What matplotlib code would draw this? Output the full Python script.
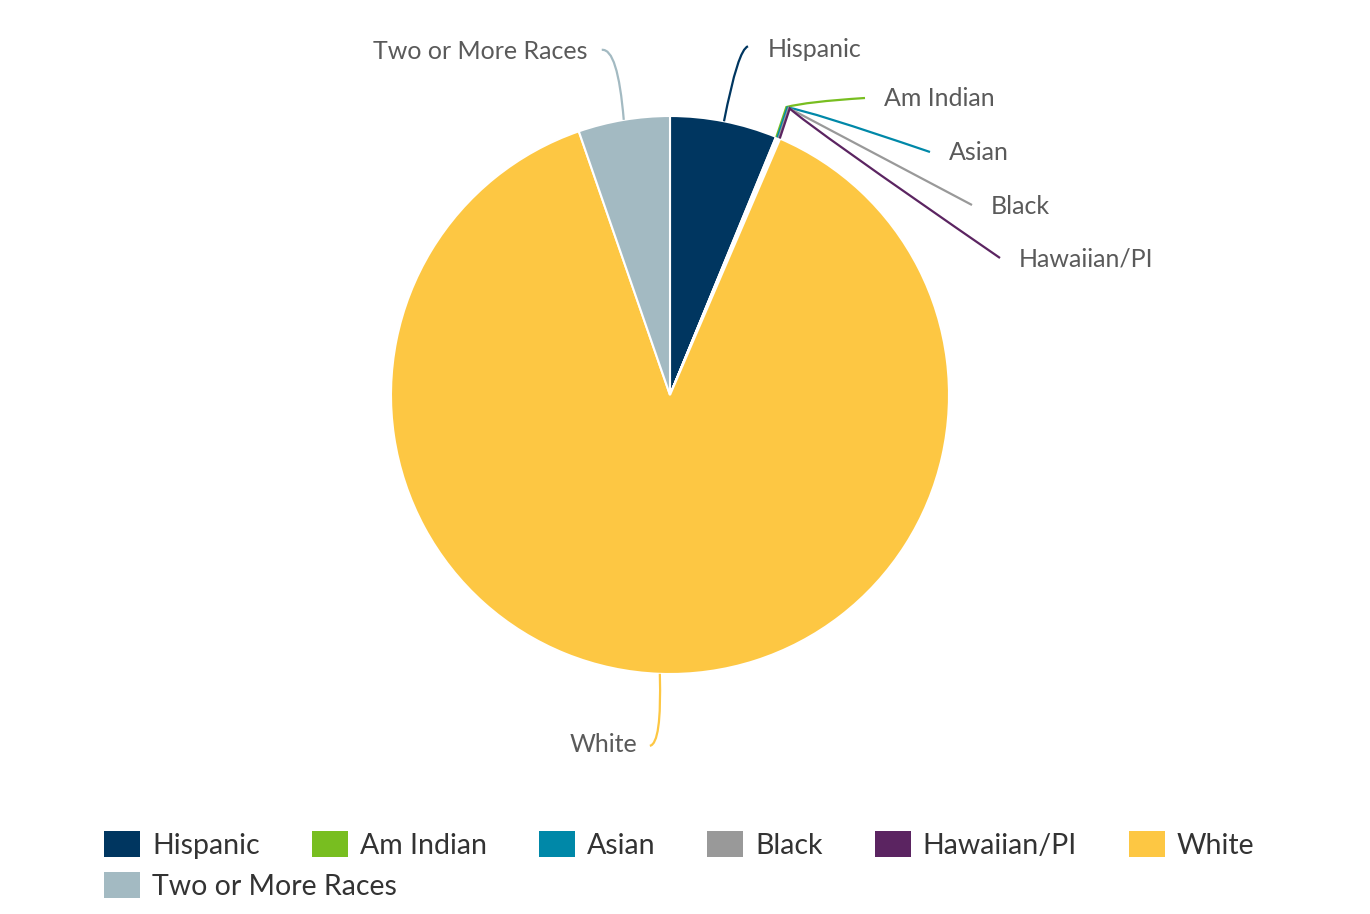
import numpy as np
import matplotlib.pyplot as plt
from matplotlib.path import Path
from matplotlib.patches import PathPatch, Patch

# race / ethnicity shares (percent)
groups = ["Hispanic", "Am Indian", "Asian", "Black", "Hawaiian/PI", "White", "Two or More Races"]
shares = [6.2, 0.05, 0.08, 0.08, 0.05, 88.24, 5.3]
colors = ["#003660", "#78be20", "#0088a8", "#999999", "#5b2461", "#fdc743", "#a3bac2"]

plt.rcParams['font.family'] = ['Lato', 'DejaVu Sans']

W, H = 1370, 914
fig = plt.figure(figsize=(W / 100, H / 100), dpi=100)
ax = fig.add_axes([0, 0, 1, 1])

cx, cy, r = 670, 395, 279
# y axis is flipped, so counterclock in data = clockwise on screen
wedges, _ = ax.pie(shares, colors=colors, startangle=-90, counterclock=True,
                   center=(cx, cy), radius=r, frame=True,
                   wedgeprops=dict(edgecolor='white', linewidth=1.5))
ax.set_xlim(0, W)
ax.set_ylim(H, 0)  # pixel coords, y down
ax.set_aspect('equal')
ax.axis('off')


def edge(w):
    a = np.deg2rad((w.theta1 + w.theta2) / 2)
    return cx + r * np.cos(a), cy + r * np.sin(a)


def curve(pts, codes, color):
    p = Path(pts, codes)
    ax.add_patch(PathPatch(p, fill=False, edgecolor=color, lw=1.6, zorder=3))


label_kw = dict(fontsize=18, color='#5a5a5a', va='center')
M, L, C = Path.MOVETO, Path.LINETO, Path.CURVE3

# Hispanic
ex, ey = edge(wedges[0])
curve([(ex, ey), (ex + 14, ey - 72), (ex + 24, ey - 75)], [M, C, C], colors[0])
ax.text(ex + 44, ey - 72, groups[0], ha='left', **label_kw)

# Two or More Races
ex, ey = edge(wedges[6])
curve([(ex, ey), (ex - 6, ey - 72), (ex - 22, ey - 70)], [M, C, C], colors[6])
ax.text(ex - 36, ey - 68, groups[6], ha='right', **label_kw)

# small slices fanning out from one bend point
ends = [(865, 98), (930, 152), (972, 205), (1000, 258)]
for i, (x1, y1) in zip(range(1, 5), ends):
    ex, ey = edge(wedges[i])
    bx, by = ex + 10, ey - 30
    curve([(ex, ey), (bx, by), (bx + 20, by - 4 + (y1 - by) * 0.15), (x1, y1)],
          [M, L, C, C], colors[i])
    ax.text(x1 + 19, y1 + 1, groups[i], ha='left', **label_kw)

# White
ex, ey = edge(wedges[5])
curve([(ex, ey), (ex + 2, ey + 70), (ex - 10, ey + 72)], [M, C, C], colors[5])
ax.text(ex - 22, ey + 71, groups[5], ha='right', **label_kw)

# legend: first row of six, second row with the last entry
handles = [Patch(facecolor=c, edgecolor='none') for c in colors]
fs = 20.5
leg_kw = dict(frameon=False, fontsize=fs, handlelength=1.27, handleheight=1.0,
              handletextpad=0.42, labelcolor='#333333', borderaxespad=0,
              borderpad=0)
fig.legend(handles[:6], groups[:6], ncol=6, loc='center left',
           bbox_to_anchor=(104 / W, 1 - 845 / H), columnspacing=1.82, **leg_kw)
fig.legend(handles[6:], groups[6:], loc='center left',
           bbox_to_anchor=(104 / W, 1 - 886 / H), **leg_kw)

fig.savefig('out.png', dpi=100, facecolor='white')
